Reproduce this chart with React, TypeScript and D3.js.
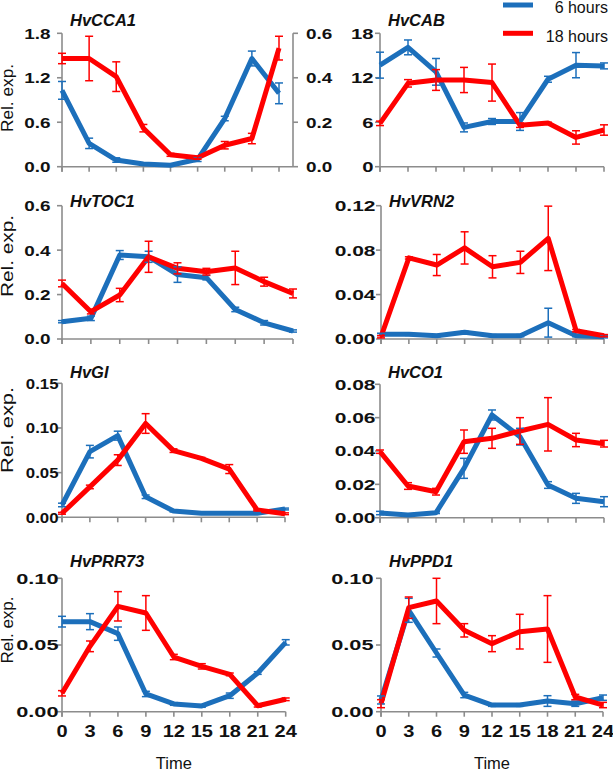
import React from "react";
import * as d3 from "d3";

// ---------- data ----------
const times = [0, 3, 6, 9, 12, 15, 18, 21, 24];
const seriesNames = ["6 hours", "18 hours"];

// HvCCA1
const cca1Short = [1.03, 0.315, 0.09, 0.036, 0.02, 0.1, 0.65, 1.46, 0.99];
const cca1ShortErr = [0.12, 0.07, 0.03, 0.01, 0.01, 0.03, 0.03, 0.1, 0.14];
const cca1Long = [1.46, 1.46, 1.215, 0.52, 0.16, 0.12, 0.29, 0.38, 1.6];
const cca1LongErr = [0.07, 0.3, 0.2, 0.05, 0.02, 0.02, 0.05, 0.07, 0.16];
const cca1Ticks = [0, 0.6, 1.2, 1.8];
const cca1RightTicks = [0, 0.2, 0.4, 0.6];

// HvCAB
const cabShort = [13.7, 16.1, 12.8, 5.3, 6.1, 6.1, 11.8, 13.7, 13.6];
const cabShortErr = [1.75, 1.0, 1.8, 0.6, 0.4, 1.2, 0.4, 1.7, 0.4];
const cabLong = [5.85, 11.25, 11.7, 11.7, 11.35, 5.6, 5.9, 3.95, 4.95];
const cabLongErr = [0.3, 0.5, 1.4, 1.7, 2.5, 0.3, 0.1, 0.9, 0.7];
const cabTicks = [0, 6, 12, 18];

// HvTOC1
const toc1Short = [0.078, 0.093, 0.378, 0.37, 0.29, 0.276, 0.133, 0.073, 0.036];
const toc1ShortErr = [0.005, 0.01, 0.02, 0.025, 0.035, 0.01, 0.01, 0.01, 0.005];
const toc1Long = [0.25, 0.123, 0.198, 0.37, 0.318, 0.303, 0.32, 0.258, 0.205];
const toc1LongErr = [0.015, 0.01, 0.03, 0.07, 0.025, 0.015, 0.075, 0.02, 0.02];
const toc1Ticks = [0, 0.2, 0.4, 0.6];

// HvVRN2
const vrn2Short = [0.0042, 0.0042, 0.003, 0.006, 0.003, 0.003, 0.0147, 0.003, 0.002];
const vrn2ShortErr = [0.001, 0.001, 0.001, 0.001, 0.001, 0.001, 0.013, 0.001, 0.001];
const vrn2Long = [0.002, 0.073, 0.0666, 0.082, 0.065, 0.069, 0.0906, 0.0075, 0.003];
const vrn2LongErr = [0.001, 0.001, 0.0095, 0.0145, 0.01, 0.01, 0.029, 0.001, 0.001];
const vrn2Ticks = [0, 0.04, 0.08, 0.12];

// HvGI
const giShort = [0.0138, 0.0735, 0.0914, 0.023, 0.007, 0.0045, 0.0045, 0.0045, 0.0093];
const giShortErr = [0.002, 0.007, 0.005, 0.002, 0.001, 0.001, 0.001, 0.001, 0.001];
const giLong = [0.0045, 0.034, 0.064, 0.105, 0.0746, 0.066, 0.054, 0.0082, 0.004];
const giLongErr = [0.001, 0.002, 0.006, 0.011, 0.002, 0.001, 0.005, 0.001, 0.001];
const giTicks = [0, 0.05, 0.1, 0.15];

// HvCO1
const co1Short = [0.0028, 0.0016, 0.003, 0.0296, 0.0616, 0.0486, 0.0196, 0.0116, 0.0096];
const co1ShortErr = [0.001, 0.0005, 0.0005, 0.006, 0.003, 0.005, 0.002, 0.003, 0.003];
const co1Long = [0.0396, 0.019, 0.0156, 0.0456, 0.0476, 0.052, 0.056, 0.0466, 0.0444];
const co1LongErr = [0.001, 0.002, 0.002, 0.007, 0.006, 0.008, 0.016, 0.004, 0.002];
const co1Ticks = [0, 0.02, 0.04, 0.06, 0.08];

// HvPRR73
const prr73Short = [0.0675, 0.0675, 0.0585, 0.0133, 0.0058, 0.0043, 0.012, 0.029, 0.052];
const prr73ShortErr = [0.004, 0.006, 0.005, 0.002, 0.001, 0.001, 0.002, 0.001, 0.002];
const prr73Long = [0.0138, 0.049, 0.079, 0.074, 0.041, 0.034, 0.028, 0.0045, 0.0093];
const prr73LongErr = [0.002, 0.004, 0.011, 0.013, 0.002, 0.002, 0.001, 0.001, 0.001];
const prr73Ticks = [0, 0.05, 0.1];

// HvPPD1
const ppd1Short = [0.0088, 0.076, 0.044, 0.0125, 0.005, 0.005, 0.008, 0.006, 0.0105];
const ppd1ShortErr = [0.003, 0.009, 0.003, 0.002, 0.001, 0.001, 0.004, 0.002, 0.002];
const ppd1Long = [0.006, 0.078, 0.083, 0.061, 0.051, 0.06, 0.062, 0.011, 0.005];
const ppd1LongErr = [0.003, 0.008, 0.017, 0.005, 0.006, 0.013, 0.025, 0.002, 0.002];
const ppd1Ticks = [0, 0.05, 0.1];

// ---------- styles / layout ----------
const COLORS = ["#1c6fbb", "#ff0000"];
const AXIS = "#8c8c8c";
const FONT = "'Liberation Sans', Arial, sans-serif";
const TICK_SIZE = 15;

type PanelDef = {
  title: string;
  short: number[];
  shortErr: number[];
  long: number[];
  longErr: number[];
  ticks: number[];
  fmt: string;
  rightTicks?: number[];
  x0: number;
  x24: number;
  yTop: number;
  yBot: number;
  titleY: number;
  tickK: number;
  labelEnd: number;
  yLabel?: { c: number; len: number };
  xLabels?: boolean;
  axisRight?: number;
};

const panels: PanelDef[] = [
  { title: "HvCCA1", short: cca1Short, shortErr: cca1ShortErr, long: cca1Long, longErr: cca1LongErr, ticks: cca1Ticks, fmt: ".1f", rightTicks: cca1RightTicks,
    x0: 62, x24: 279, yTop: 33.3, yBot: 166.7, titleY: 26, tickK: 1.26, labelEnd: 50.5, yLabel: { c: 98, len: 68 }, axisRight: 293 },
  { title: "HvCAB", short: cabShort, shortErr: cabShortErr, long: cabLong, longErr: cabLongErr, ticks: cabTicks, fmt: "d",
    x0: 380, x24: 604, yTop: 33.3, yBot: 166.7, titleY: 26, tickK: 1.35, labelEnd: 373.5 },
  { title: "HvTOC1", short: toc1Short, shortErr: toc1ShortErr, long: toc1Long, longErr: toc1LongErr, ticks: toc1Ticks, fmt: ".1f",
    x0: 62, x24: 293, yTop: 205.7, yBot: 339, titleY: 206.5, tickK: 1.26, labelEnd: 50.5, yLabel: { c: 256, len: 82 } },
  { title: "HvVRN2", short: vrn2Short, shortErr: vrn2ShortErr, long: vrn2Long, longErr: vrn2LongErr, ticks: vrn2Ticks, fmt: ".2f",
    x0: 381, x24: 604, yTop: 205.7, yBot: 339, titleY: 206.5, tickK: 1.4, labelEnd: 375.5 },
  { title: "HvGI", short: giShort, shortErr: giShortErr, long: giLong, longErr: giLongErr, ticks: giTicks, fmt: ".2f",
    x0: 62, x24: 285, yTop: 383.3, yBot: 517.3, titleY: 378, tickK: 1.12, labelEnd: 58.5, yLabel: { c: 430, len: 86 } },
  { title: "HvCO1", short: co1Short, shortErr: co1ShortErr, long: co1Long, longErr: co1LongErr, ticks: co1Ticks, fmt: ".2f",
    x0: 380, x24: 604, yTop: 384.3, yBot: 517.7, titleY: 378, tickK: 1.4, labelEnd: 375.5 },
  { title: "HvPRR73", short: prr73Short, shortErr: prr73ShortErr, long: prr73Long, longErr: prr73LongErr, ticks: prr73Ticks, fmt: ".2f",
    x0: 62, x24: 285.7, yTop: 578.3, yBot: 711.7, titleY: 567, tickK: 1.45, labelEnd: 58.5, yLabel: { c: 630, len: 67 }, xLabels: true },
  { title: "HvPPD1", short: ppd1Short, shortErr: ppd1ShortErr, long: ppd1Long, longErr: ppd1LongErr, ticks: ppd1Ticks, fmt: ".2f",
    x0: 381, x24: 603, yTop: 578.3, yBot: 711.7, titleY: 567, tickK: 1.45, labelEnd: 373.5, xLabels: true },
];

function ScaledText({ x, y, k, anchor, children, size = TICK_SIZE }: any) {
  return (
    <text
      transform={`translate(${x},${y}) scale(${k},1)`}
      textAnchor={anchor}
      dy="0.36em"
      fontFamily={FONT}
      fontWeight="bold"
      fontSize={size}
      fill="#111"
    >
      {children}
    </text>
  );
}

function Panel({ p }: { p: PanelDef }) {
  const yMax = p.ticks[p.ticks.length - 1];
  const x = d3.scaleLinear().domain([0, 24]).range([p.x0, p.x24]);
  const y = d3.scaleLinear().domain([0, yMax]).range([p.yBot, p.yTop]);
  const fmt = d3.format(p.fmt);
  const line = d3
    .line<number>()
    .x((_, i) => x(times[i]))
    .y((d) => y(d));
  const series = [
    { v: p.short, e: p.shortErr, c: COLORS[0] },
    { v: p.long, e: p.longErr, c: COLORS[1] },
  ];
  const xEnd = p.axisRight ?? p.x24;
  let yr: any = null;
  if (p.rightTicks) {
    yr = d3.scaleLinear().domain([0, p.rightTicks[p.rightTicks.length - 1]]).range([p.yBot, p.yTop]);
  }
  return (
    <g>
      {/* axes */}
      <line x1={p.x0} x2={p.x0} y1={p.yTop} y2={p.yBot + 5} stroke={AXIS} strokeWidth={1.6} />
      <line x1={p.x0} x2={xEnd} y1={p.yBot} y2={p.yBot} stroke={AXIS} strokeWidth={1.6} />
      {p.ticks.map((t) => (
        <g key={"yt" + t}>
          <line x1={p.x0 - 5} x2={p.x0} y1={y(t)} y2={y(t)} stroke={AXIS} strokeWidth={1.6} />
          <ScaledText x={p.labelEnd} y={y(t)} k={p.tickK} anchor="end">
            {fmt(t)}
          </ScaledText>
        </g>
      ))}
      {times.map((t) => (
        <line key={"xt" + t} x1={x(t)} x2={x(t)} y1={p.yBot} y2={p.yBot + 5} stroke={AXIS} strokeWidth={1.6} />
      ))}
      {p.xLabels &&
        times.map((t) => (
          <ScaledText key={"xl" + t} x={x(t)} y={731.5} k={1.25} anchor="middle" size={16}>
            {String(t)}
          </ScaledText>
        ))}
      {p.xLabels && (
        <text x={(p.x0 + p.x24) / 2} y={769} textAnchor="middle" fontFamily={FONT} fontSize={16.5} fill="#111">
          Time
        </text>
      )}
      {yr && p.axisRight && (
        <g>
          <line x1={p.axisRight} x2={p.axisRight} y1={p.yTop} y2={p.yBot} stroke={AXIS} strokeWidth={1.6} />
          {p.rightTicks!.map((t) => (
            <g key={"rt" + t}>
              <line x1={p.axisRight} x2={p.axisRight + 5} y1={yr(t)} y2={yr(t)} stroke={AXIS} strokeWidth={1.6} />
              <ScaledText x={p.axisRight! + 13} y={yr(t)} k={p.tickK} anchor="start">
                {d3.format(".1f")(t)}
              </ScaledText>
            </g>
          ))}
        </g>
      )}
      {p.yLabel && (
        <text
          transform={`translate(13,${p.yLabel.c}) rotate(-90)`}
          textAnchor="middle"
          fontFamily={FONT}
          fontSize={16}
          textLength={p.yLabel.len}
          lengthAdjust="spacingAndGlyphs"
          fill="#111"
        >
          Rel. exp.
        </text>
      )}
      {/* title */}
      <text x={p.x0 + 8} y={p.titleY} fontFamily={FONT} fontWeight="bold" fontStyle="italic" fontSize={16.5} fill="#111">
        {p.title}
      </text>
      {/* lines */}
      {series.map((s, si) => (
        <path key={"l" + si} d={line(s.v) || ""} fill="none" stroke={s.c} strokeWidth={5} strokeLinejoin="round" />
      ))}
      {/* error bars */}
      {series.map((s, si) => (
        <g key={"e" + si} stroke={s.c} strokeWidth={1.5}>
          {s.v.map((v, i) => {
            const cx = x(times[i]);
            const top = y(v + s.e[i]);
            const bot = y(Math.max(0, v - s.e[i]));
            return (
              <g key={i}>
                <line x1={cx} x2={cx} y1={top} y2={bot} />
                <line x1={cx - 4} x2={cx + 4} y1={top} y2={top} />
                <line x1={cx - 4} x2={cx + 4} y1={bot} y2={bot} />
              </g>
            );
          })}
        </g>
      ))}
    </g>
  );
}

export default function App() {
  return (
    <svg
      width={613}
      height={771}
      viewBox="0 0 613 771"
      style={{ position: "absolute", left: 0, top: 0, background: "#fff", display: "block" }}
    >
      <rect x={0} y={0} width={613} height={771} fill="#fff" />
      {panels.map((p) => (
        <Panel key={p.title} p={p} />
      ))}
      {/* legend */}
      {seriesNames.map((n, i) => (
        <g key={n}>
          <line x1={503} x2={533} y1={5 + i * 28.3} y2={5 + i * 28.3} stroke={COLORS[i]} strokeWidth={5} />
          <text x={608} y={12.8 + i * 28.8} textAnchor="end" fontFamily={FONT} fontSize={16} fill="#111">
            {n}
          </text>
        </g>
      ))}
    </svg>
  );
}
